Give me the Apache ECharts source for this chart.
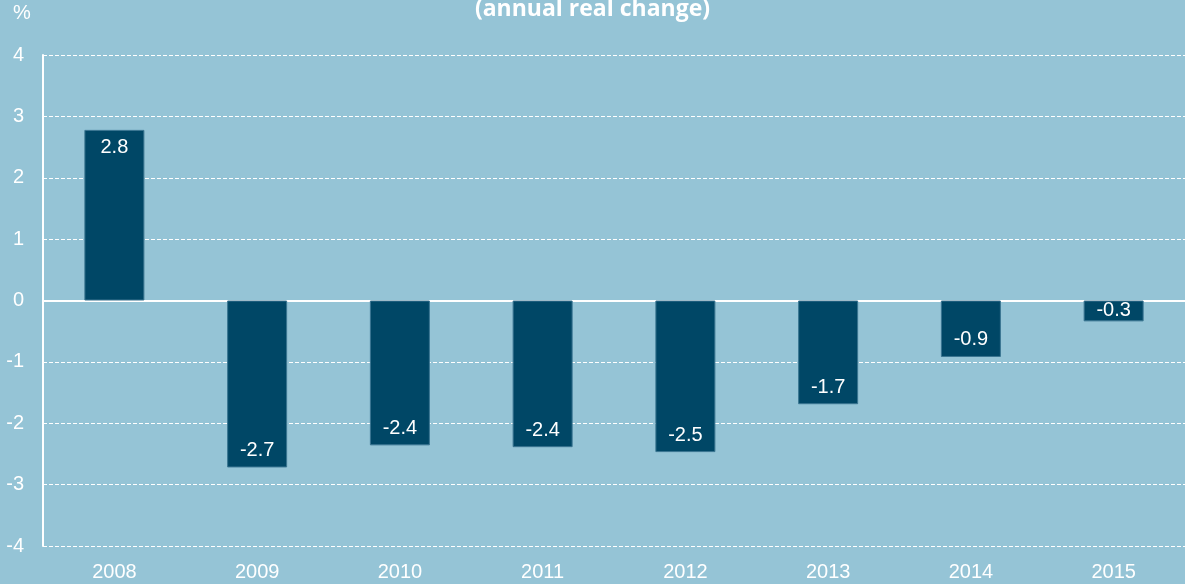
<!DOCTYPE html>
<html><head><meta charset="utf-8">
<script src="https://cdn.jsdelivr.net/npm/echarts@6/dist/echarts.min.js"></script>
<style>html,body{margin:0;padding:0;background:#95c4d6;}#c{width:1185px;height:584px;}</style>
</head><body><div id="c"></div>
<script>
var categories = ['2008','2009','2010','2011','2012','2013','2014','2015'];
var values = [2.78, -2.72, -2.36, -2.39, -2.47, -1.69, -0.92, -0.34];
var yTicks = { min: -4, max: 4, interval: 1 };
var titleText = '(annual real change)';
var unitText = '%';

function labelPos(v){
  if (Math.abs(v) < 0.5) return { position: 'inside' };
  return v >= 0 ? { position: 'insideTop', distance: 8 } : { position: 'insideBottom', distance: 7 };
}

var chart = echarts.init(document.getElementById('c'), null, {renderer:'canvas'});
chart.setOption({
  backgroundColor: '#95c4d6',
  animation: false,
  title: {
    text: titleText, left: 'center', top: -7,
    textStyle: { color: '#ffffff', fontFamily: 'Open Sans', fontWeight: 'bold', fontSize: 23 }
  },
  graphic: [{
    type: 'text', left: 13, top: 3,
    style: { text: unitText, fill: '#ffffff', font: '20px "Liberation Sans", Arial' }
  }],
  grid: { left: 43, right: 0, top: 55, bottom: 38, containLabel: false },
  xAxis: {
    type: 'category', data: categories,
    axisLine: { onZero: true, lineStyle: { color: '#ffffff', width: 2 } },
    axisTick: { show: false },
    axisLabel: { color: '#ffffff', fontSize: 20, fontFamily: 'Liberation Sans', margin: 16 },
    splitLine: { show: false }
  },
  yAxis: {
    type: 'value', min: yTicks.min, max: yTicks.max, interval: yTicks.interval,
    axisLine: { show: true, lineStyle: { color: '#ffffff', width: 2 } },
    axisTick: { show: false },
    axisLabel: { color: '#ffffff', fontSize: 20, fontFamily: 'Liberation Sans', margin: 19, align: 'right' },
    splitLine: { show: true, lineStyle: { color: '#ffffff', type: [4, 2], width: 1 } }
  },
  series: [{
    type: 'bar', barWidth: 60,
    data: values.map(function(v){ return { value: v, label: labelPos(v) }; }),
    itemStyle: { color: '#004766', borderColor: '#3a7591', borderWidth: 1 },
    label: { show: true, color: '#ffffff', fontSize: 20, fontFamily: 'Liberation Sans',
      formatter: function(p){ return p.value.toFixed(1); } }
  }]
});
</script></body></html>
